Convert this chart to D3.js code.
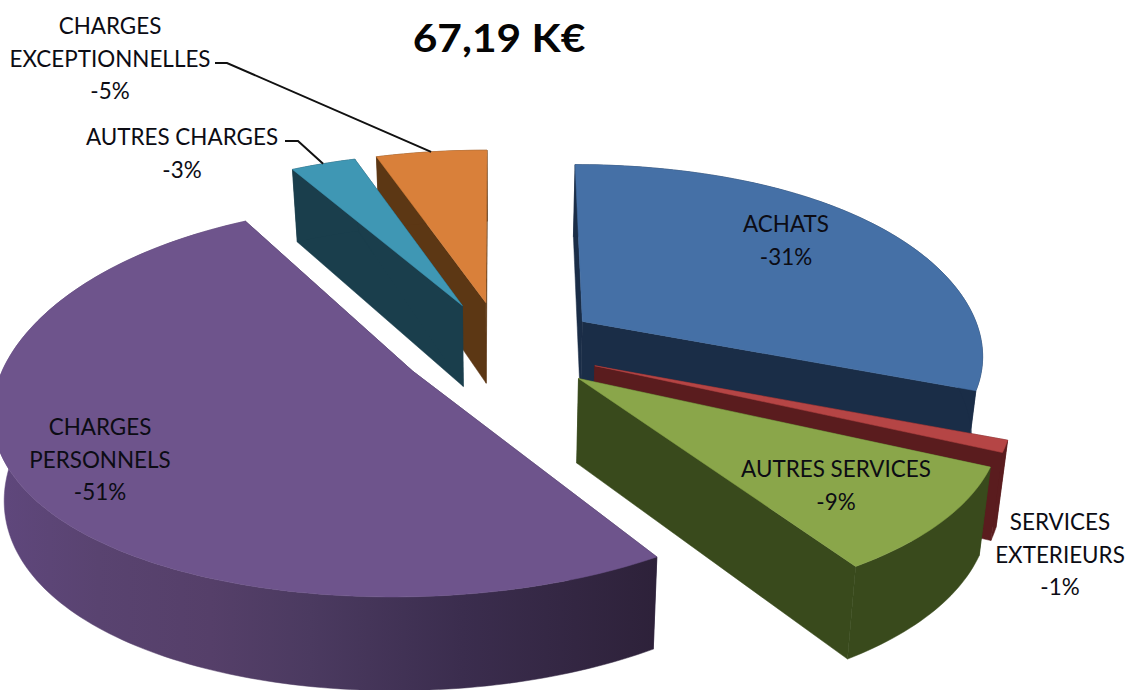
<!DOCTYPE html>
<html><head><meta charset="utf-8">
<script src="https://cdnjs.cloudflare.com/ajax/libs/d3/7.8.5/d3.min.js"></script>
<style>html,body{margin:0;padding:0;background:#fff;overflow:hidden}svg{display:block}
text{font-family:Lato,"Open Sans",sans-serif;fill:#0c0c14}</style>
</head><body><svg id="c" width="1127" height="690"></svg>
<script>
// Data (clockwise from 12 o'clock)
const categories = ["ACHATS","SERVICES EXTERIEURS","AUTRES SERVICES","CHARGES PERSONNELS","AUTRES CHARGES","CHARGES EXCEPTIONNELLES"];
const values = [31,1,9,51,3,5];
const topColors = ["#4570a6","#b54545","#8aa64a","#6e548c","#3f97b4","#d9803a"];
const sideColors = ["#1a2d47","#5a1c1e","#394a1c","url(#purpleSide)","#1a3e4c","#5c3714"];
const total = "67,19 K€";
const labelLines = [["ACHATS","-31%"],["SERVICES","EXTERIEURS","-1%"],["AUTRES SERVICES","-9%"],["CHARGES","PERSONNELS","-51%"],["AUTRES CHARGES","-3%"],["CHARGES","EXCEPTIONNELLES","-5%"]];
const labelPos = [[786,232],[1060,530],[836,477],[100,435],[182,145],[110,34]];
const elbows = {4:[[285,141],[298,141]],5:[[215,63],[227,63]]};
const leaderAngleFrac = {4:0.5,5:0.5};

// 3D pie model
const cx=501, cy=347, rx=402, ry=186, c1=0.16, c2=0.057, ky=0.143, explode=0.25;
const depthBase=83, depthSlope=9.5, shrink=0.977;
function project(X,Y,z){
  const sx=1+c1*Y+c2*Y*Y, sy=1/(1-ky*Y);
  let x=cx+X*rx*sx, y=cy+Y*ry*sy;
  if(z){ x=cx+(x-cx)*shrink; y+=depthBase+depthSlope*Y; }
  return [x,y];
}
const svg=d3.select("#c");
const defs=svg.append("defs");
const grad=defs.append("linearGradient").attr("id","purpleSide").attr("gradientUnits","userSpaceOnUse")
  .attr("x1",0).attr("x2",660).attr("y1",0).attr("y2",0);
[[0,"#5f477c"],[.15,"#594370"],[.32,"#553f69"],[.47,"#4b3a60"],[.7,"#3b2d4e"],[1,"#2d2139"]]
  .forEach(s=>grad.append("stop").attr("offset",s[0]).attr("stop-color",s[1]));

const arcs=d3.pie().sort(null).startAngle(0).endAngle(2*Math.PI)(values);
const line=d3.line();
const pieces=arcs.map((a,i)=>{
  const mid=(a.startAngle+a.endAngle)/2;
  const ox=explode*Math.sin(mid), oy=-explode*Math.cos(mid);
  const pt=(ang,r,z)=>project(ox+r*Math.sin(ang),oy-r*Math.cos(ang),z);
  return {a,i,mid,oy,pt};
});
function arcPts(p,z,from,to){
  const n=Math.max(4,Math.ceil((to-from)/0.02));
  return d3.range(n+1).map(k=>p.pt(from+(to-from)*k/n,1,z));
}
const g=svg.append("g");
pieces.slice().sort((m,n)=>m.oy-n.oy).forEach(p=>{
  const {a,i,pt}=p, side=sideColors[i], s=a.startAngle, e=a.endAngle;
  const sg=g.append("g");
  [s,e].forEach(ang=>{
    sg.append("path").attr("fill",i===3?"#3a2c4e":side).attr("stroke",i===3?"#3a2c4e":side).attr("stroke-width",.5)
      .attr("d",line([pt(0,0,0),pt(ang,1,0),pt(ang,1,1),pt(0,0,1)])+"Z");
  });
  sg.append("path").attr("fill",side).attr("stroke",side).attr("stroke-width",.5)
    .attr("d",line(arcPts(p,0,s,e).concat(arcPts(p,1,s,e).reverse()))+"Z");
  sg.append("path").attr("fill",topColors[i]).attr("stroke",topColors[i]).attr("stroke-width",.5)
    .attr("d",line([pt(0,0,0)].concat(arcPts(p,0,s,e)))+"Z");
});
// leaders
Object.keys(elbows).forEach(k=>{
  const p=pieces[k], ang=p.a.startAngle+(p.a.endAngle-p.a.startAngle)*leaderAngleFrac[k];
  g.append("path").attr("fill","none").attr("stroke","#111").attr("stroke-width",2)
    .attr("d",line(elbows[k].concat([p.pt(ang,1,0)])));
});
// labels
function fit(sel,f){
  const n=sel.node();
  sel.attr("textLength",n.getComputedTextLength()*f).attr("lengthAdjust","spacingAndGlyphs");
}
labelLines.forEach((ls,i)=>{
  ls.forEach((t,j)=>{
    const el=svg.append("text").attr("x",labelPos[i][0]).attr("y",labelPos[i][1]+j*32.5)
      .attr("text-anchor","middle").attr("font-size",23).text(t);
    fit(el,0.975);
  });
});
const tt=svg.append("text").attr("x",499).attr("y",52).attr("text-anchor","middle")
  .attr("font-size",39).attr("font-weight",700).style("fill","#050505").text(total);
fit(tt,1.09);
</script></body></html>
